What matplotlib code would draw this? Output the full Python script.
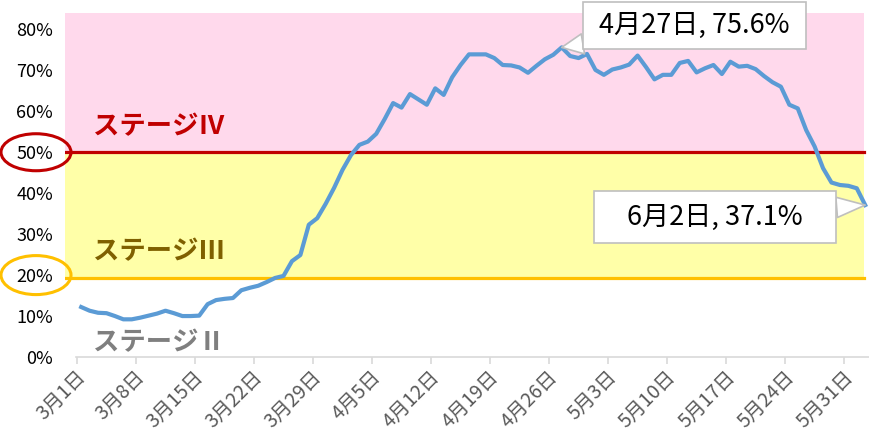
import matplotlib

matplotlib.use("Agg")
import matplotlib.pyplot as plt
import pandas as pd
from matplotlib.patches import Ellipse
from matplotlib.transforms import IdentityTransform, ScaledTranslation, blended_transform_factory

plt.rcParams["font.family"] = ["Noto Sans CJK JP", "DejaVu Sans"]

# daily values, 3/1 .. 6/2 (%)
dates = pd.date_range("2020-03-01", "2020-06-02", freq="D")
rate = [
    12.2, 11.3, 10.8, 10.7, 10.0, 9.2, 9.2, 9.6, 10.1, 10.6,
    11.3, 10.7, 10.0, 10.0, 10.1, 12.9, 13.9, 14.2, 14.4, 16.3,
    16.9, 17.4, 18.3, 19.3, 19.8, 23.4, 24.9, 32.3, 33.9, 37.4,
    41.3, 45.7, 49.3, 51.8, 52.6, 54.5, 58.1, 62.0, 60.9, 64.2,
    62.9, 61.6, 65.6, 64.0, 68.3, 71.3, 73.9, 73.9, 73.9, 73.0,
    71.3, 71.2, 70.7, 69.4, 71.1, 72.7, 73.8, 75.6, 73.5, 73.0,
    74.0, 70.1, 68.9, 70.2, 70.7, 71.4, 73.6, 70.8, 67.8, 68.9,
    68.9, 71.8, 72.3, 69.5, 70.5, 71.3, 69.1, 72.1, 70.9, 71.1,
    70.3, 68.6, 67.1, 66.0, 61.6, 60.7, 55.4, 51.4, 46.1, 42.6,
    42.0, 41.8, 41.2, 37.1,
]
tick_days = list(range(0, 92, 7))
tick_labels = [f"{dates[i].month}月{dates[i].day}日" for i in tick_days]
y_ticks = list(range(0, 81, 10))
stage4_level = 50
stage3_level = 19.4
stage_names = ["ステージⅣ", "ステージⅢ", "ステージⅡ"]
stage_text_y = [56.2, 25.7, 3.5]
stage_colors = ["#C00000", "#7F6000", "#7F7F7F"]
callout_days = [57, 93]

fig = plt.figure(figsize=(8.69, 4.36), dpi=100)
ax = fig.add_axes([65 / 869, 79 / 436, 804 / 869, 344 / 436])
x = list(range(len(rate)))
ax.set_xlim(-1.92, 93.45)
ax.set_ylim(0, 84)

band_right = 799 / 804
ax.axhspan(stage4_level, 84, xmin=0, xmax=band_right, color="#FFD9EC", lw=0, zorder=0)
ax.axhspan(stage3_level, stage4_level, xmin=0, xmax=band_right, color="#FFFFA8", lw=0, zorder=0)
ax.axhline(stage4_level, xmin=0, xmax=band_right, color="#C00000", lw=2.3, zorder=2)
ax.axhline(stage3_level, xmin=0, xmax=band_right, color="#FFC000", lw=2.3, zorder=2)

ax.plot(x, rate, color="#5B9BD5", lw=3, solid_joinstyle="round", clip_on=False, zorder=5)

for side in ["left", "right", "top"]:
    ax.spines[side].set_visible(False)
ax.spines["bottom"].set_color("#D9D9D9")
ax.spines["bottom"].set_linewidth(1.2)
ax.spines["bottom"].set_bounds(-0.6, 93.45)

ax.set_xticks([d - 0.5 for d in tick_days])
ax.set_xticklabels(tick_labels, rotation=45, ha="right", va="center",
                   rotation_mode="anchor", fontsize=14, color="#595959")
ax.tick_params(axis="x", length=5, width=1.2, color="#D9D9D9", pad=7)
shift = ScaledTranslation(6 / 100, 0, fig.dpi_scale_trans)
for lbl in ax.get_xticklabels():
    lbl.set_transform(lbl.get_transform() + shift)

ax.set_yticks(y_ticks)
ax.set_yticklabels([f"{v}%" for v in y_ticks], fontsize=13, color="black")
ax.tick_params(axis="y", length=0, pad=8.5)

trans = blended_transform_factory(ax.transAxes, ax.transData)
for name, ty, col in zip(stage_names, stage_text_y, stage_colors):
    ax.text(0.035, ty, name, transform=trans, fontsize=19, fontweight="bold",
            color=col, va="center", ha="left", zorder=3)

# callouts (fixed-size boxes: horizontal pad, vertical/horizontal ratio)
offsets = [(133, 22), (-150, -12)]
box_pads = [(0.59, 0.62), (1.22, 0.38)]
for d, off, (pad, aspect) in zip(callout_days, offsets, box_pads):
    label = f"{dates[d].month}月{dates[d].day}日, {rate[d]:.1f}%"
    ax.annotate(label, xy=(d, rate[d]), xytext=off, textcoords="offset pixels",
                ha="center", va="center", fontsize=19.5, zorder=7,
                bbox=dict(boxstyle=f"square,pad={pad}", mutation_aspect=aspect,
                          fc="white", ec="#BFBFBF", lw=1.2),
                arrowprops=dict(arrowstyle="wedge,tail_width=0.75,shrink_factor=0.5",
                                fc="white", ec="#BFBFBF", lw=1.2, shrinkA=0, shrinkB=0))

# ellipses round the 50% and 20% tick labels
for level, col, h in [(50, "#C00000", 37), (20, "#FFC000", 39)]:
    yp = ax.transData.transform((0, level))[1]
    fig.add_artist(Ellipse((36, yp), 70, h, transform=IdentityTransform(),
                           fill=False, ec=col, lw=2.2))

fig.savefig("out.png", dpi=100)
